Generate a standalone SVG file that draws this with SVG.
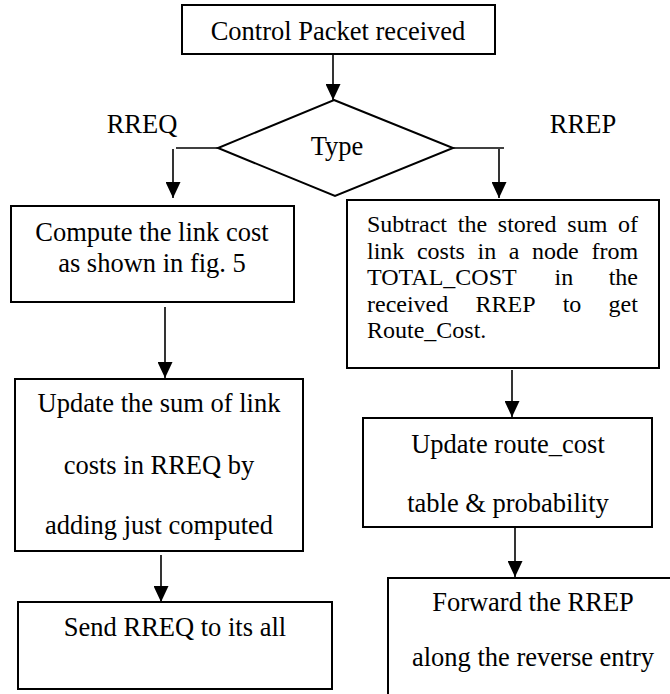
<svg xmlns="http://www.w3.org/2000/svg" width="670" height="694" viewBox="0 0 670 694">
<style>
  .box { fill: #ffffff; stroke: #000000; stroke-width: 2; }
  .t { font-family: "Liberation Serif", "Times New Roman", serif; font-size: 26.5px; fill: #000000; text-anchor: middle; }
  .s { font-family: "Liberation Serif", "Times New Roman", serif; font-size: 24px; fill: #000000; }
  .c { fill: none; stroke: #000000; stroke-width: 1.6; }
</style>
<defs>
  <marker id="ah" viewBox="0 0 16 15" refX="16" refY="7.5" markerWidth="16" markerHeight="15" markerUnits="userSpaceOnUse" orient="auto">
    <path d="M0,0 L16,7.5 L0,15 z" fill="#000000"/>
  </marker>
</defs>
<rect width="670" height="694" fill="#ffffff"/>

<g id="connectors">
  <line class="c" x1="333" y1="54" x2="333" y2="100" marker-end="url(#ah)"/>
  <line class="c" x1="218" y1="148" x2="176" y2="148"/>
  <line class="c" x1="173" y1="149" x2="173" y2="198" marker-end="url(#ah)"/>
  <line class="c" x1="453" y1="148" x2="504" y2="148"/>
  <line class="c" x1="499" y1="149" x2="499" y2="198" marker-end="url(#ah)"/>
  <line class="c" x1="165" y1="307" x2="165" y2="378" marker-end="url(#ah)"/>
  <line class="c" x1="161" y1="555" x2="161" y2="602" marker-end="url(#ah)"/>
  <line class="c" x1="512" y1="370" x2="512" y2="417" marker-end="url(#ah)"/>
  <line class="c" x1="515" y1="527" x2="515" y2="577" marker-end="url(#ah)"/>
</g>

<g id="start">
  <rect class="box" x="182" y="5" width="313" height="49"/>
  <text class="t" x="338" y="40">Control Packet received</text>
</g>

<g id="type">
  <polygon class="box" points="334,100 453,148 335,196 218,148"/>
  <text class="t" x="337" y="155">Type</text>
</g>

<g id="label-rreq">
  <text class="t" x="142" y="133">RREQ</text>
</g>
<g id="label-rrep">
  <text class="t" x="583" y="133">RREP</text>
</g>

<g id="compute">
  <rect class="box" x="11" y="206" width="283" height="96"/>
  <text class="t" x="152" y="241">Compute the link cost</text>
  <text class="t" x="152" y="272">as shown in fig. 5</text>
</g>

<g id="update-sum">
  <rect class="box" x="15" y="379" width="288" height="172"/>
  <text class="t" x="159" y="412">Update the sum of link</text>
  <text class="t" x="159" y="474">costs in RREQ by</text>
  <text class="t" x="159" y="534">adding just computed</text>
</g>

<g id="send">
  <rect class="box" x="18" y="602" width="314" height="87"/>
  <text class="t" x="175" y="636">Send RREQ to its all</text>
</g>

<g id="subtract">
  <rect class="box" x="347" y="200" width="312" height="168"/>
  <text class="s" y="232"><tspan x="367">Subtract</tspan><tspan x="457.8">the</tspan><tspan x="497.8">stored</tspan><tspan x="567.3">sum</tspan><tspan x="618">of</tspan></text>
  <text class="s" y="258.5"><tspan x="367">link</tspan><tspan x="416.9">costs</tspan><tspan x="477.5">in</tspan><tspan x="508.8">a</tspan><tspan x="532.1">node</tspan><tspan x="591.4">from</tspan></text>
  <text class="s" y="285"><tspan x="367">TOTAL_COST</tspan><tspan x="554.5">in</tspan><tspan x="608.7">the</tspan></text>
  <text class="s" y="311.5"><tspan x="367">received</tspan><tspan x="475.5">RREP</tspan><tspan x="562.7">to</tspan><tspan x="608.6">get</tspan></text>
  <text class="s" x="367" y="338">Route_Cost.</text>
</g>

<g id="update-route">
  <rect class="box" x="363" y="418" width="289" height="109"/>
  <text class="t" x="508" y="453">Update route_cost</text>
  <text class="t" x="508" y="512">table &amp; probability</text>
</g>

<g id="forward">
  <rect class="box" x="388" y="578" width="290" height="130"/>
  <text class="t" x="533" y="611">Forward the RREP</text>
  <text class="t" x="533" y="666">along the reverse entry</text>
</g>
</svg>
